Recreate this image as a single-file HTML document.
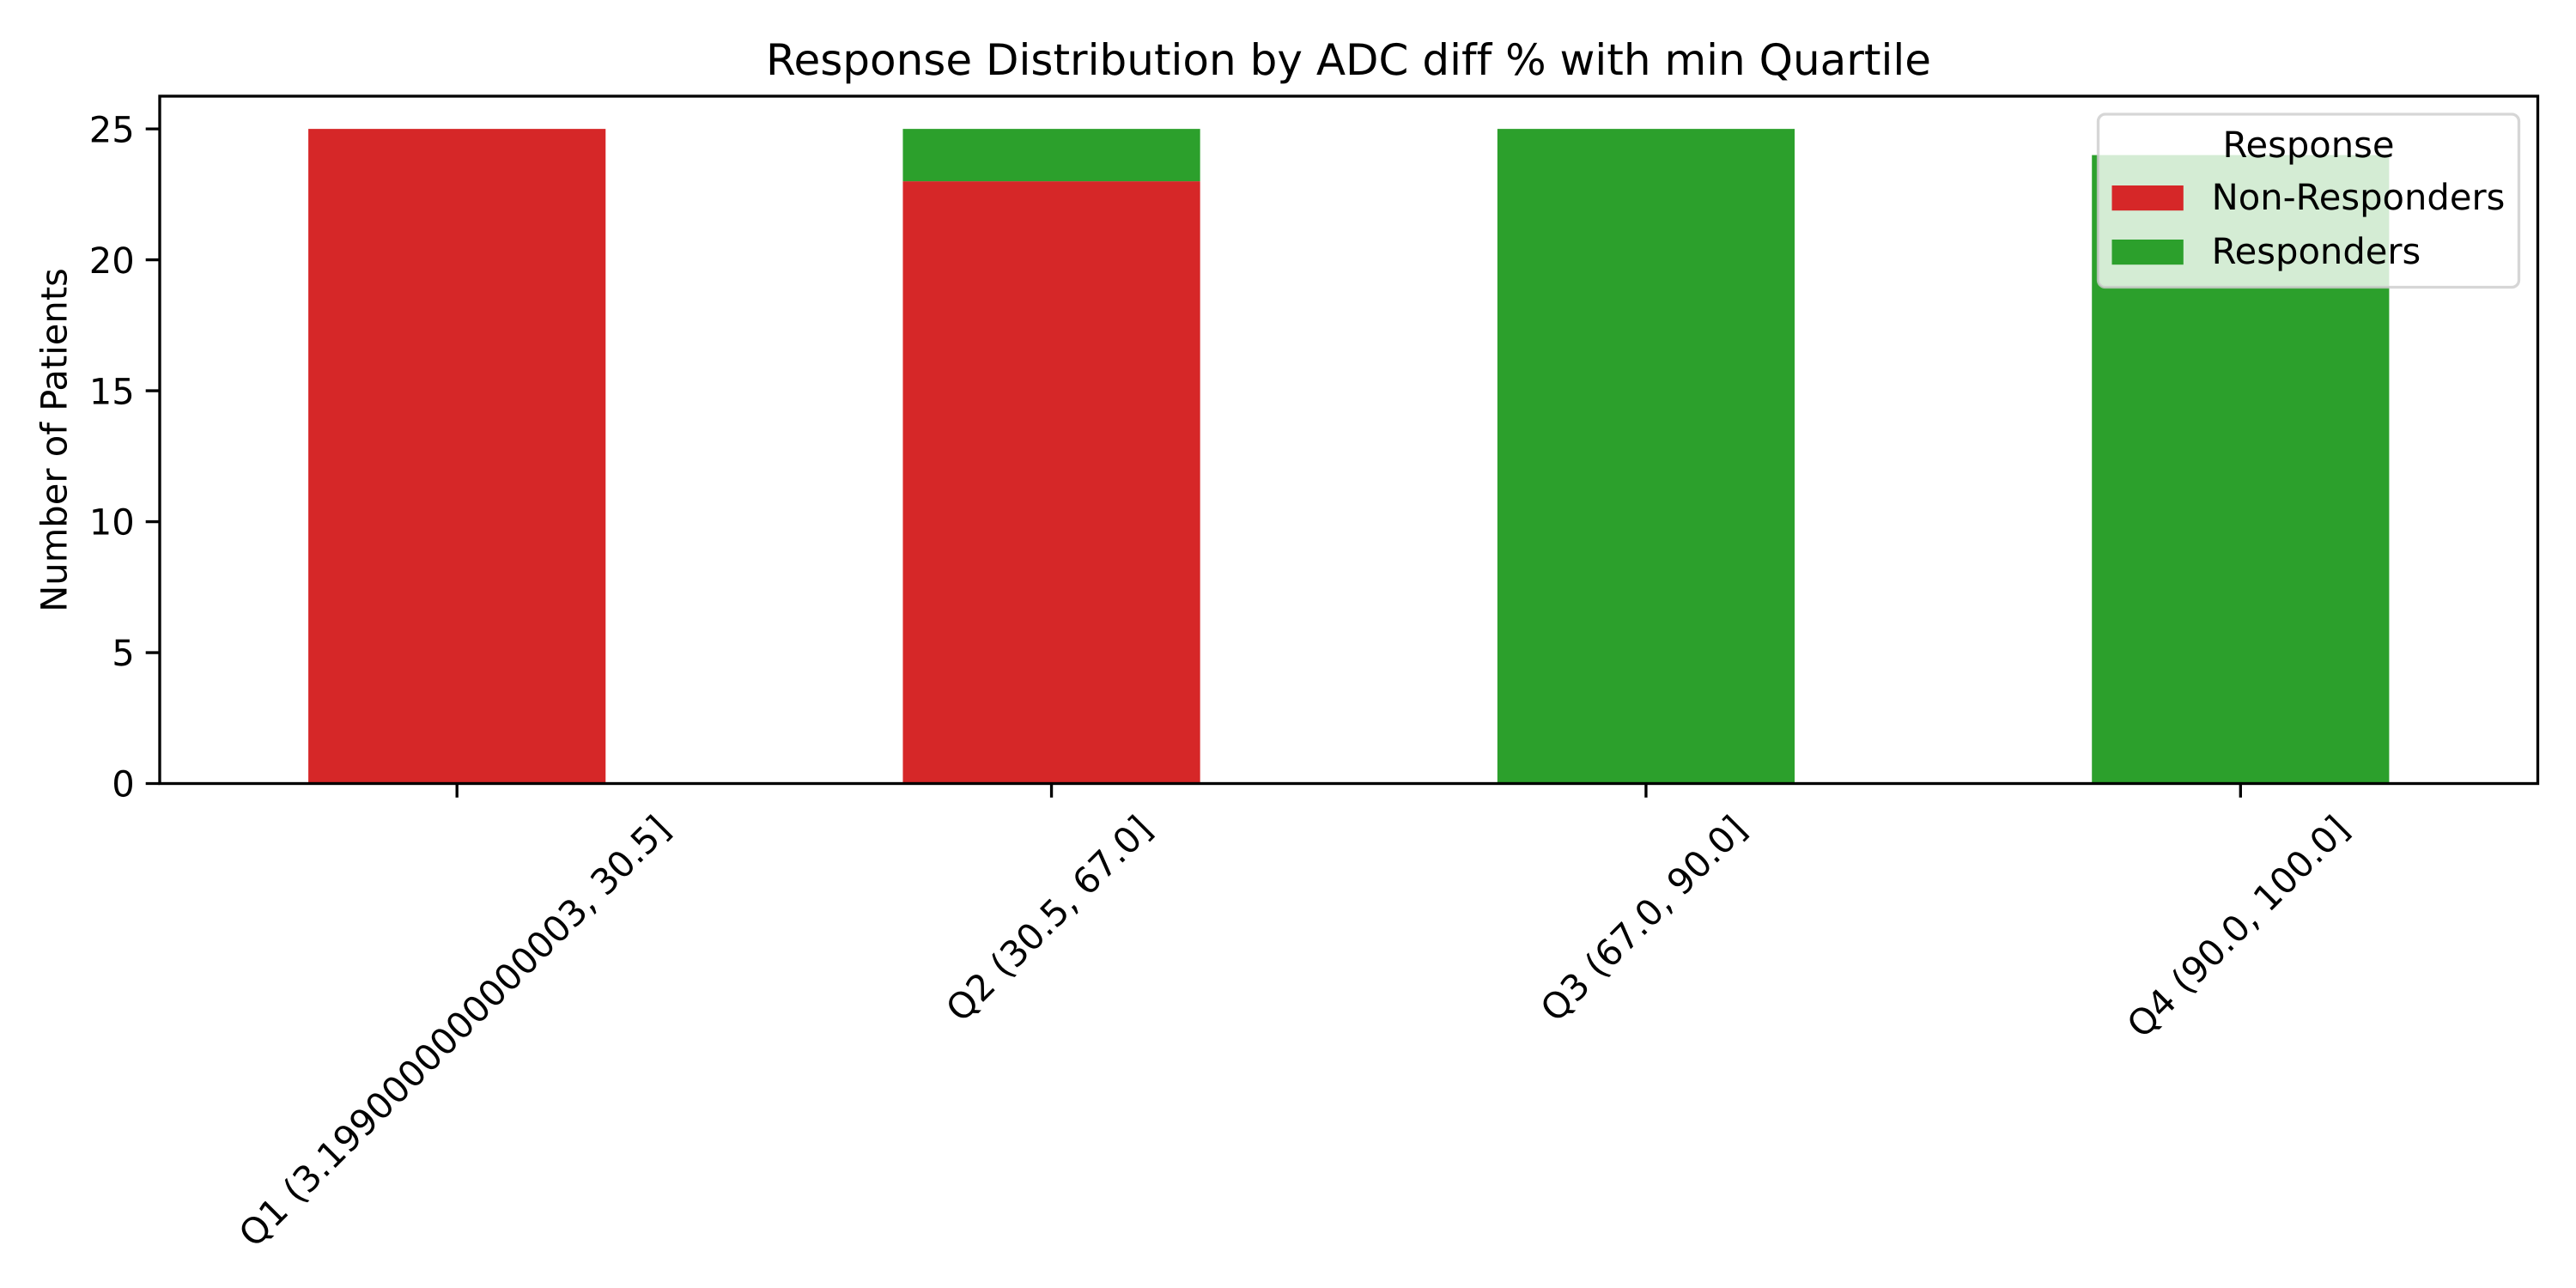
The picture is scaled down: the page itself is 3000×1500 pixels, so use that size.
<!DOCTYPE html>
<html lang="en">
<head>
<meta charset="utf-8">
<title>Response Distribution by ADC diff % with min Quartile</title>
<style>
html,body{margin:0;padding:0;background:#fff;}
svg{display:block;font-family:"DejaVu Sans","Liberation Sans",sans-serif;font-variant-ligatures:none;font-feature-settings:"liga" 0,"clig" 0;text-rendering:geometricPrecision;}
text{fill:#000;}
</style>
</head>
<body>
<svg id="chart" xmlns="http://www.w3.org/2000/svg" width="3000" height="1500" viewBox="0 0 3000 1500">
  <rect x="0" y="0" width="3000" height="1500" fill="#ffffff"/>
  <text x="1570.5" y="87" font-size="50" text-anchor="middle">Response Distribution by ADC diff % with min Quartile</text>
  <text x="0" y="0" font-size="41.67" text-anchor="middle" transform="translate(77.5,512.5) rotate(-90)">Number of Patients</text>
  <g id="bars"></g>
  <g id="x-axis"></g>
  <g id="y-axis"></g>
  <g id="spines" fill="none" stroke="#000" stroke-width="3.33">
    <rect x="186" y="112" width="2769.5" height="800.5"/>
  </g>
  <g>
    <rect x="2443.5" y="133" width="490" height="201.5" rx="8.3" ry="8.3" fill="#ffffff" fill-opacity="0.8" stroke="#cccccc" stroke-opacity="0.8" stroke-width="3.33"/>
    <text x="2688.5" y="183" font-size="41.67" text-anchor="middle">Response</text>
    <g>
      <rect x="2459.5" y="216" width="83.3" height="29.2" fill="#d62728"/>
      <text x="2575.6" y="244" font-size="41.67">Non-Responders</text>
    </g>
    <g>
      <rect x="2459.5" y="279" width="83.3" height="29.2" fill="#2ca02c"/>
      <text x="2575.6" y="307" font-size="41.67">Responders</text>
    </g>
  </g>
</svg>
<script>
const categories = ["Q1 (3.1990000000000003, 30.5]", "Q2 (30.5, 67.0]", "Q3 (67.0, 90.0]", "Q4 (90.0, 100.0]"];
const nonResponders = [25, 23, 0, 0];
const responders = [0, 2, 25, 24];
const yTicks = [0, 5, 10, 15, 20, 25];

const NS = "http://www.w3.org/2000/svg";
const plot = { left: 186, right: 2955.5, top: 112, bottom: 912.5 };
const yMax = Math.max(...categories.map((_, i) => nonResponders[i] + responders[i])) * 1.05;
const barWidth = 0.5;

function xScale(v) {
  return plot.left + (v + 0.5) / categories.length * (plot.right - plot.left);
}
function yScale(v) {
  return plot.bottom - v / yMax * (plot.bottom - plot.top);
}
function make(tag, attrs, parent) {
  const el = document.createElementNS(NS, tag);
  for (const k in attrs) el.setAttribute(k, attrs[k]);
  parent.appendChild(el);
  return el;
}

const barsG = document.getElementById("bars");
const xG = document.getElementById("x-axis");
const yG = document.getElementById("y-axis");

categories.forEach((label, i) => {
  const x0 = xScale(i - barWidth / 2);
  const w = xScale(i + barWidth / 2) - x0;
  const redTop = yScale(nonResponders[i]);
  const greenTop = yScale(nonResponders[i] + responders[i]);
  if (nonResponders[i] > 0) {
    const r = make("rect", { x: x0, y: redTop, width: w, height: plot.bottom - redTop, fill: "#d62728" }, barsG);
    
    
  }
  if (responders[i] > 0) {
    const g = make("rect", { x: x0, y: greenTop, width: w, height: redTop - greenTop, fill: "#2ca02c" }, barsG);
    
    
  }

  const cx = xScale(i);
  const tick = make("line", { x1: cx, x2: cx, y1: plot.bottom, y2: plot.bottom + 16.3, stroke: "#000", "stroke-width": 3.33 }, xG);
  
  

  const t = make("text", { "font-size": 41.67, "text-anchor": "middle", x: 0, y: 0 }, xG);
  
  
  t.textContent = label;
  const tw = t.getComputedTextLength();
  const th = 48.5;
  const half = (tw + th) * Math.SQRT1_2 / 2;
  const topY = plot.bottom + 14.6 + 14.6;
  const cy = topY + half;
  t.setAttribute("transform", "translate(" + (cx - 2) + "," + cy + ") rotate(-45) translate(0,13)");
});

yTicks.forEach(v => {
  const y = yScale(v);
  const tick = make("line", { x1: plot.left - 16.3, x2: plot.left, y1: y, y2: y, stroke: "#000", "stroke-width": 3.33 }, yG);
  
  
  const t = make("text", { x: plot.left - 29.2, y: y + 15.2, "font-size": 41.67, "text-anchor": "end" }, yG);
  
  
  t.textContent = String(v);
});
</script>
</body>
</html>
